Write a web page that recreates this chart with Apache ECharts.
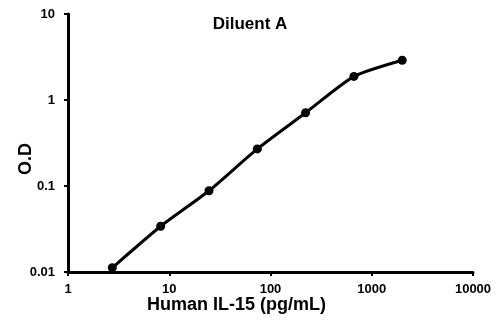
<!DOCTYPE html>
<html>
<head>
<meta charset="utf-8">
<script src="https://cdn.jsdelivr.net/npm/echarts@6/dist/echarts.min.js"></script>
<style>
html,body{margin:0;padding:0;background:#fff;}
#chart{width:500px;height:322px;}
</style>
</head>
<body>
<div id="chart"></div>
<script>
const concentrations = [2.74, 8.23, 24.7, 74.1, 222, 667, 2000];
const odValues = [0.0112, 0.034, 0.088, 0.27, 0.71, 1.88, 2.9];
const xTickLabels = ['1', '10', '100', '1000', '10000'];
const yTickLabels = ['0.01', '0.1', '1', '10'];
const chartTitle = 'Diluent A';
const xName = 'Human IL-15 (pg/mL)';
const yName = 'O.D';

const font = '"Liberation Sans", Arial, sans-serif';
const chart = echarts.init(document.getElementById('chart'));
chart.setOption({
  animation: false,
  backgroundColor: '#fff',
  title: {
    text: chartTitle,
    left: 245, top: 11,
    textAlign: 'center',
    textStyle: {fontFamily: font, fontWeight: 'bold', fontSize: 17, color: '#000'}
  },
  grid: {left: 68, right: 27, top: 14, bottom: 50, containLabel: false, outerBoundsMode: 'none'},
  xAxis: {
    type: 'log', logBase: 10,
    min: Number(xTickLabels[0]), max: Number(xTickLabels[xTickLabels.length - 1]),
    name: xName, nameLocation: 'middle', nameGap: 24, nameMoveOverlap: false,
    nameTextStyle: {fontFamily: font, fontWeight: 'bold', fontSize: 18, color: '#000', padding: [0, 68, 0, 0]},
    axisLine: {show: true, lineStyle: {color: '#000', width: 3}},
    axisTick: {show: true, length: 4, lineStyle: {color: '#000', width: 2}},
    minorTick: {show: false},
    splitLine: {show: false},
    axisLabel: {
      margin: 11, fontFamily: font, fontWeight: 'bold', fontSize: 13, color: '#000',
      formatter: v => { const s = String(Math.round(v)); return xTickLabels.includes(s) ? s : ''; }
    }
  },
  yAxis: {
    type: 'log', logBase: 10,
    min: Number(yTickLabels[0]), max: Number(yTickLabels[yTickLabels.length - 1]),
    name: yName, nameLocation: 'middle', nameGap: 33, nameMoveOverlap: false,
    nameTextStyle: {fontFamily: font, fontWeight: 'bold', fontSize: 18, color: '#000', padding: [0, 32, 0, 0]},
    axisLine: {show: true, lineStyle: {color: '#000', width: 3}},
    axisTick: {show: true, length: 4, lineStyle: {color: '#000', width: 2}},
    splitLine: {show: false},
    axisLabel: {
      margin: 13, fontFamily: font, fontWeight: 'bold', fontSize: 13, color: '#000',
      formatter: v => { const s = String(parseFloat(v.toPrecision(3))); return yTickLabels.includes(s) ? s : ''; }
    }
  },
  series: [{
    type: 'line',
    data: concentrations.map((c, i) => [c, odValues[i]]),
    smooth: 0.2,
    symbol: 'circle', symbolSize: 9,
    lineStyle: {color: '#000', width: 3},
    itemStyle: {color: '#000'}
  }]
});
</script>
</body>
</html>
